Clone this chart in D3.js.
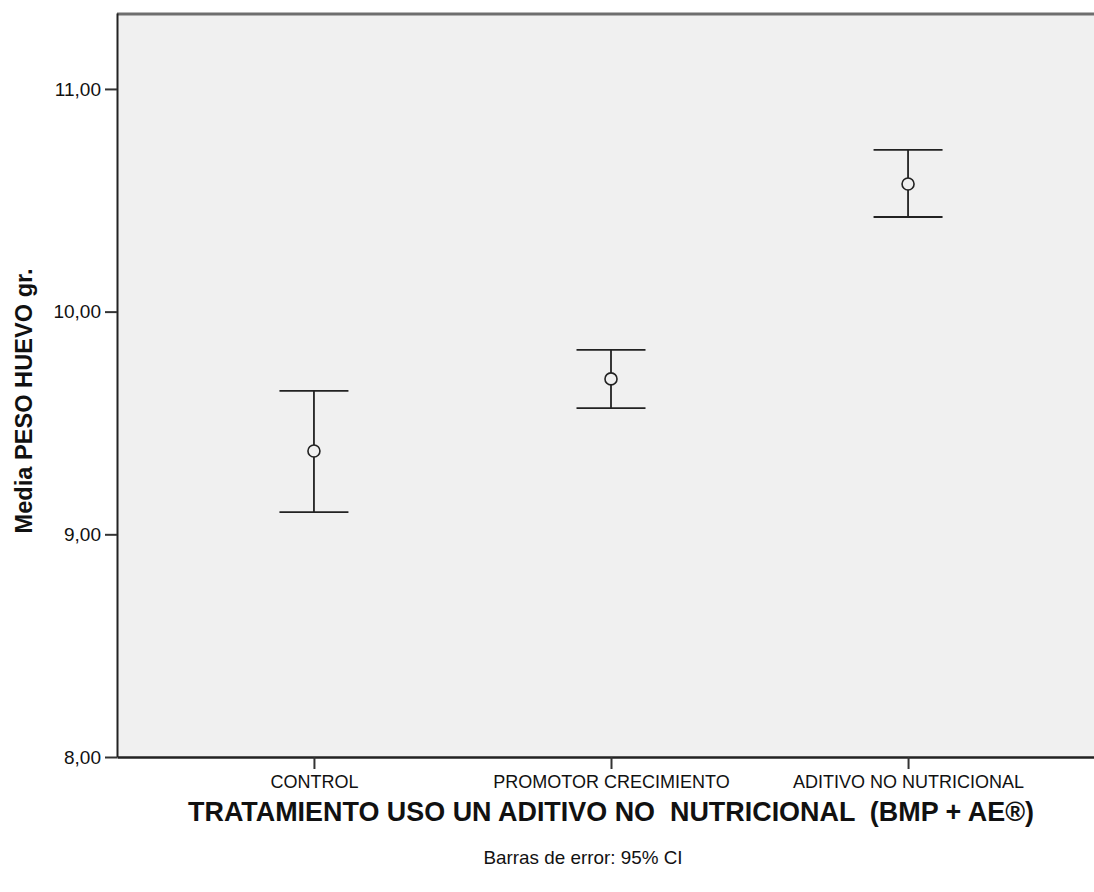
<!DOCTYPE html>
<html>
<head>
<meta charset="utf-8">
<script src="https://cdn.jsdelivr.net/npm/d3@7"></script>
<style>
  html, body { margin: 0; padding: 0; background: #ffffff; }
  svg { display: block; }
  text { font-family: "Liberation Sans", Arial, sans-serif; fill: #111; }
</style>
</head>
<body>
<svg id="chart" width="1094" height="892"></svg>
<script>
// ---- data ----
const categories = ["CONTROL", "PROMOTOR CRECIMIENTO", "ADITIVO NO NUTRICIONAL"];
const means = [9.374, 9.698, 10.573];
const lower = [9.100, 9.567, 10.425];
const upper = [9.644, 9.828, 10.726];
const yTicks = [8, 9, 10, 11];
const xTitle = "TRATAMIENTO USO UN ADITIVO NO  NUTRICIONAL  (BMP + AE®)";
const yTitle = "Media PESO HUEVO gr.";
const footnote = "Barras de error: 95% CI";

// ---- layout ----
const svg = d3.select("#chart");
const plot = { left: 117, top: 13, right: 1105, bottom: 757 };

const locale = d3.formatLocale({ decimal: ",", thousands: ".", grouping: [3], currency: ["", "€"] });
const fmt = locale.format(".2f");

const x = d3.scalePoint().domain(categories).range([plot.left, plot.right]).padding(0.663);
const y = d3.scaleLinear().domain([8, 11.341]).range([plot.bottom, plot.top]);

// plot background
svg.append("rect")
  .attr("x", plot.left).attr("y", plot.top)
  .attr("width", plot.right - plot.left).attr("height", plot.bottom - plot.top)
  .attr("fill", "#f0f0f0");

// top border
svg.append("line")
  .attr("x1", plot.left).attr("x2", plot.right)
  .attr("y1", plot.top + 1).attr("y2", plot.top + 1)
  .attr("stroke", "#6e6e6e").attr("stroke-width", 3);

// y axis
const yAxis = svg.append("g")
  .attr("transform", `translate(${plot.left},0)`)
  .call(d3.axisLeft(y).tickValues(yTicks).tickFormat(fmt).tickSize(12).tickSizeOuter(0).tickPadding(4));
yAxis.select(".domain").attr("stroke", "#222").attr("stroke-width", 2);
yAxis.selectAll(".tick line").attr("stroke", "#333").attr("stroke-width", 2);
yAxis.selectAll(".tick text")
  .attr("font-size", "19px").attr("fill", "#111")
  .style("font-family", "'Liberation Sans', Arial, sans-serif");

// x axis
const xAxis = svg.append("g")
  .attr("transform", `translate(0,${plot.bottom})`)
  .call(d3.axisBottom(x).tickSize(12).tickSizeOuter(0).tickPadding(6));
xAxis.select(".domain").attr("stroke", "#222").attr("stroke-width", 2.5);
xAxis.selectAll(".tick line").attr("stroke", "#333").attr("stroke-width", 2);
xAxis.selectAll(".tick text")
  .attr("font-size", "18px").attr("fill", "#111")
  .style("font-family", "'Liberation Sans', Arial, sans-serif");

// error bars
const capHalf = 34.5;
const g = svg.append("g").attr("stroke", "#222").attr("fill", "none").attr("stroke-width", 1.8);
categories.forEach((c, i) => {
  const cx = x(c);
  g.append("line").attr("x1", cx).attr("x2", cx).attr("y1", y(lower[i])).attr("y2", y(upper[i]));
  g.append("line").attr("x1", cx - capHalf).attr("x2", cx + capHalf).attr("y1", y(upper[i])).attr("y2", y(upper[i]));
  g.append("line").attr("x1", cx - capHalf).attr("x2", cx + capHalf).attr("y1", y(lower[i])).attr("y2", y(lower[i]));
  g.append("circle").attr("cx", cx).attr("cy", y(means[i])).attr("r", 6)
    .attr("fill", "#f0f0f0").attr("stroke-width", 1.6);
});

// x title
svg.append("text")
  .attr("x", 611).attr("y", 821)
  .attr("text-anchor", "middle")
  .attr("font-size", "28px").attr("font-weight", "bold")
  .attr("textLength", 846).attr("lengthAdjust", "spacingAndGlyphs")
  .style("white-space", "pre")
  .text(xTitle);

// y title
svg.append("text")
  .attr("transform", "translate(32,401) rotate(-90)")
  .attr("text-anchor", "middle")
  .attr("font-size", "23px").attr("font-weight", "bold")
  .attr("textLength", 265).attr("lengthAdjust", "spacingAndGlyphs")
  .text(yTitle);

// footnote
svg.append("text")
  .attr("x", 583).attr("y", 864)
  .attr("text-anchor", "middle")
  .attr("font-size", "19px")
  .attr("textLength", 199).attr("lengthAdjust", "spacingAndGlyphs")
  .text(footnote);
</script>
</body>
</html>
